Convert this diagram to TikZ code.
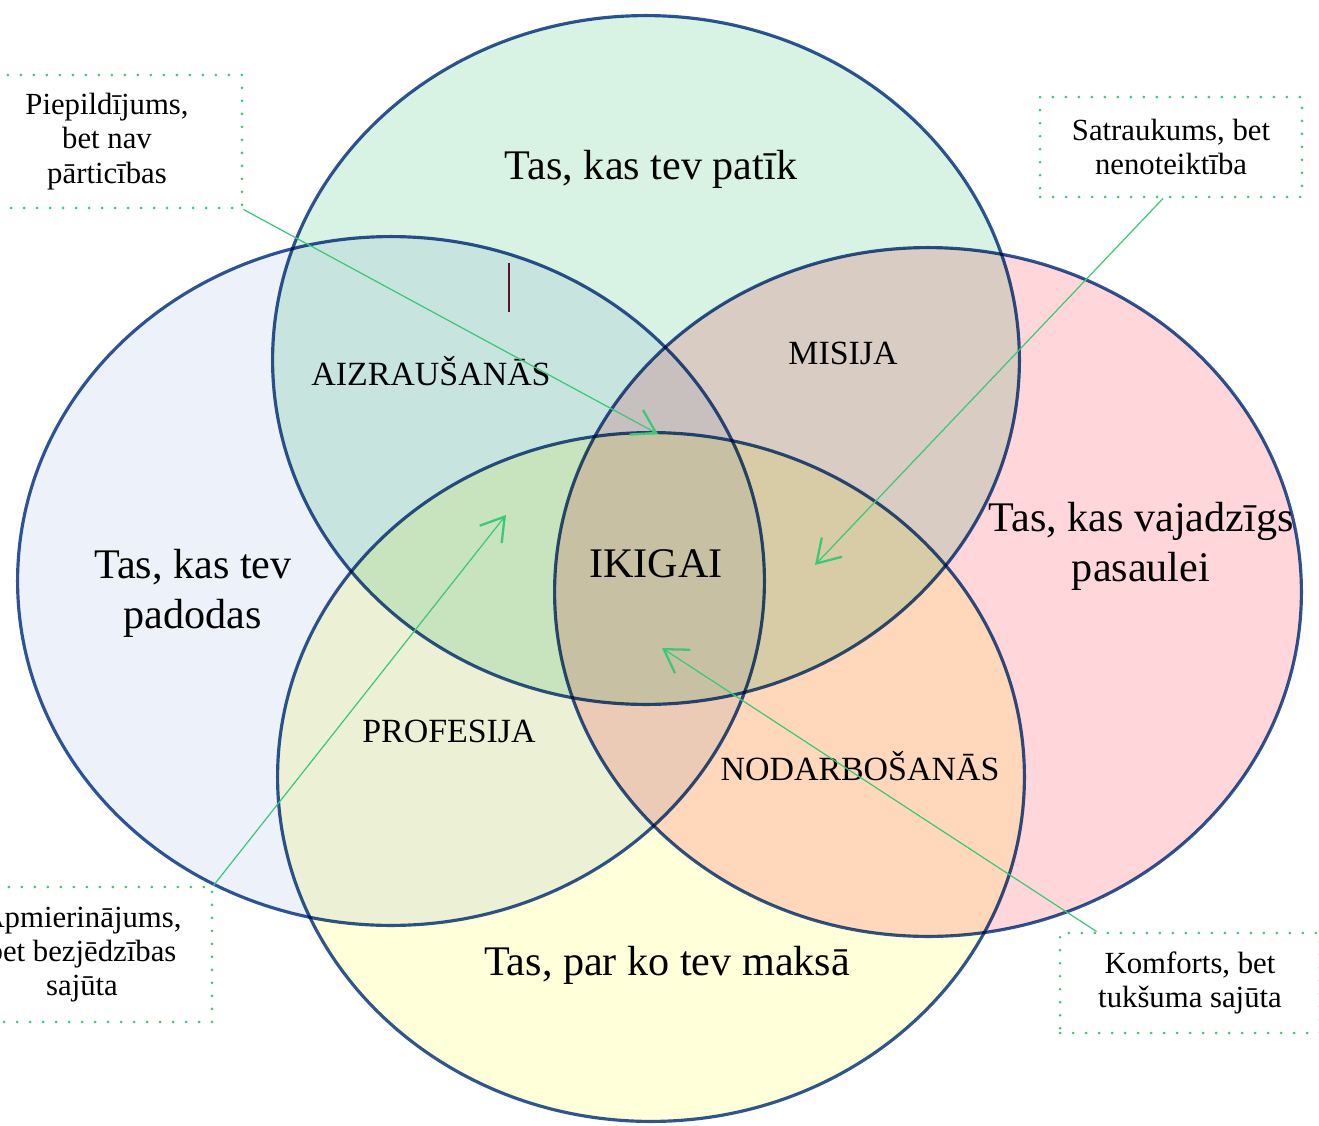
\documentclass[tikz,border=0pt]{standalone}
\usepackage{fontspec}
\setmainfont{Liberation Serif}
\usetikzlibrary{arrows.meta}
\definecolor{vennblue}{RGB}{47,85,151}
\definecolor{cpatik}{RGB}{216,242,228}
\definecolor{cpadod}{RGB}{236,241,250}
\definecolor{cpasaul}{RGB}{255,215,219}
\definecolor{cmaksa}{RGB}{255,255,218}
\definecolor{notegreen}{RGB}{60,200,120}
\definecolor{cursor}{RGB}{90,20,40}
\newcommand{\vennrx}{7.47cm}
\newcommand{\vennry}{6.89cm}

\begin{document}
\begin{tikzpicture}[x=0.02cm,y=-0.02cm,
  venn/.style={draw=vennblue, line width=1.8pt},
  big/.style={font=\fontsize{24}{28.5}\selectfont, align=center},
  zone/.style={font=\fontsize{19.3}{23}\selectfont, anchor=base},
  note/.style={draw=notegreen, line width=1.7pt, dash pattern=on 0pt off 7.4pt,
    line cap=round, font=\fontsize{17.5}{19.5}\selectfont, align=center, inner sep=0pt},
  pointer/.style={draw=notegreen, line width=0.7pt,
    -{Straight Barb[length=4.5mm,width=5.6mm,line width=1.3pt]}}]

      \useasboundingbox (0,0) rectangle (1319,1126);

          %%  the four circles %%
      \begin{scope}[blend mode=multiply]
      \foreach \cx/\cy/\col in {391/581/cpadod, 928/592/cpasaul, 646/360/cpatik, 651/777/cmaksa}
      { \draw[venn, fill=\col] (\cx,\cy) ellipse [x radius=\vennrx, y radius=\vennry];}
      \end{scope}

      \node[big, anchor=base] (patik) at (651,179) {Tas, kas tev patīk};
      \node[big] (padod) at (193,593) {Tas, kas tev\\padodas};
      \node[big] (pasaul) at (1141,546) {Tas, kas vajadzīgs\\pasaulei};
      \node[big, anchor=base] (maksa) at (667,975) {Tas, par ko tev maksā};

      \node[zone] (aizr) at (431,385) {AIZRAUŠANĀS};
      \node[zone] (misija) at (843,364) {MISIJA};
      \node[zone] (prof) at (449,742) {PROFESIJA};
      \node[zone] (nodarb) at (860,780) {NODARBOŠANĀS};
      \node[big, anchor=base] (ikigai) at (656,577) {IKIGAI};

      \draw[cursor, line width=1.1pt] (509,263) -- (509,312);

          %%  callouts %%
      \node[note, minimum width=5.4cm, minimum height=2.66cm] (n1) at (107,141.5) {Piepildījums,\\bet nav\\pārticības};
      \node[note, minimum width=5.24cm, minimum height=2cm] (n2) at (1171,147) {Satraukums, bet\\nenoteiktība};
      \node[note, minimum width=5.2cm, minimum height=2.7cm] (n3) at (82,954.5) {Apmierinājums,\\bet bezjēdzības\\sajūta};
      \node[note, minimum width=5.2cm, minimum height=2cm] (n4) at (1190,983) {Komforts, bet\\tukšuma sajūta};

      \coordinate (t1) at (658,434);
      \coordinate (t2) at (815,565);
      \coordinate (t3) at (506,515);
      \coordinate (t4) at (662,648);
      \draw[pointer] (n1.south east) -- (t1);
      \draw[pointer] ([xshift=-0.16cm]n2.south) -- (t2);
      \draw[pointer] (n3.north east) -- (t3);
      \draw[pointer] ([xshift=0.76cm]n4.north west) -- (t4);

\end{tikzpicture}
\end{document}
